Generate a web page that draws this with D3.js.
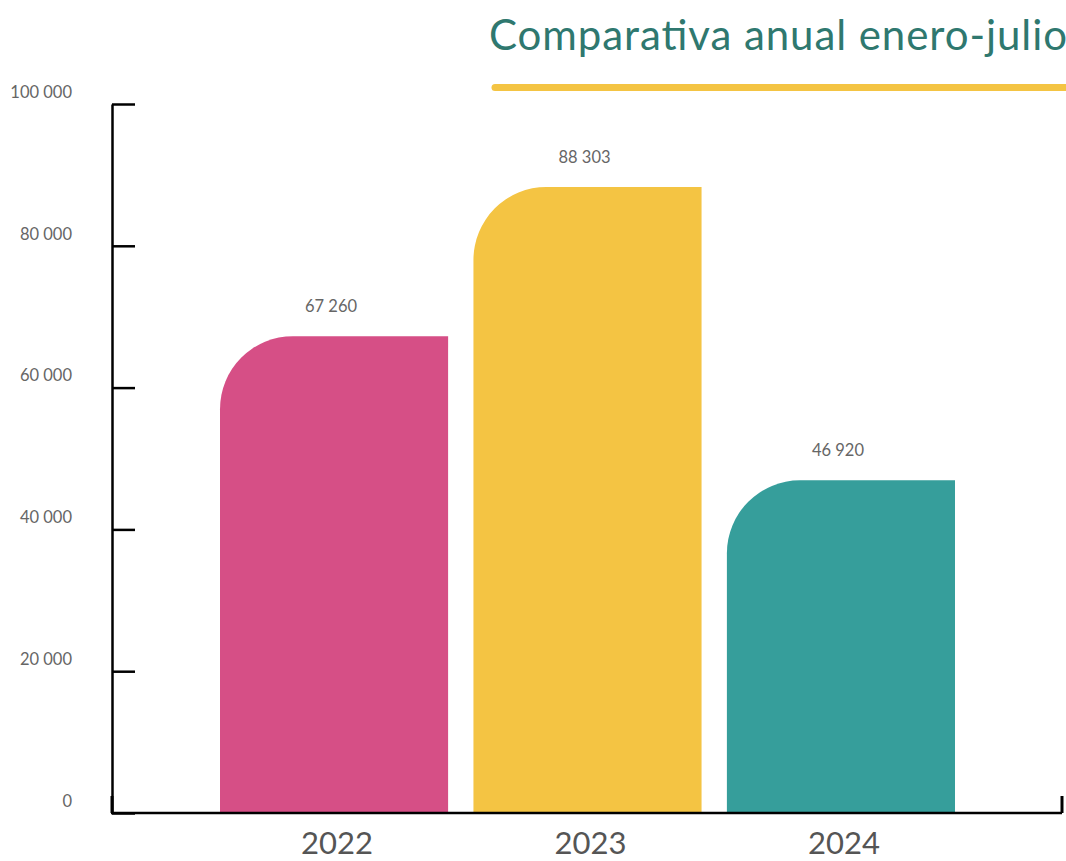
<!DOCTYPE html>
<html>
<head>
<meta charset="utf-8">
<script src="https://cdn.jsdelivr.net/npm/d3@7"></script>
<style>
  body { margin: 0; background: #fff; }
  text { font-family: Lato, "Open Sans", sans-serif; }
</style>
</head>
<body>
<div id="plot"></div>
<script>
// Data
const years = ["2022", "2023", "2024"];
const values = [67260, 88303, 46920];
const barColors = ["#d64f86", "#f4c443", "#369e9b"];
const tickValues = [0, 20000, 40000, 60000, 80000, 100000];
const tickLabels = ["0", "20 000", "40 000", "60 000", "80 000", "100 000"];
const valueLabels = ["67 260", "88 303", "46 920"];
const title = "Comparativa anual enero-julio";

const width = 1066;
const height = 861;

const svg = d3.select("#plot")
  .append("svg")
  .attr("width", width)
  .attr("height", height);

// Scales
const x = d3.scaleBand()
  .domain(years)
  .range([220, 955])
  .paddingInner(0.1)
  .paddingOuter(0);

const y = d3.scaleLinear()
  .domain([0, 100000])
  .range([813, 104]);

// Title + underline
svg.append("text")
  .attr("x", 489)
  .attr("y", 50)
  .attr("font-size", 42)
  .attr("fill", "#2f786f")
  .attr("textLength", 578)
  .attr("lengthAdjust", "spacing")
  .text(title);

svg.append("line")
  .attr("x1", 495).attr("x2", 1075)
  .attr("y1", 87.5).attr("y2", 87.5)
  .attr("stroke", "#f4c443")
  .attr("stroke-width", 7)
  .attr("stroke-linecap", "round");

// Bars with a rounded top-left corner
const radius = 73;
function barPath(d, i) {
  const x0 = x(years[i]);
  const x1 = x0 + x.bandwidth();
  const yTop = y(d);
  const yBot = y(0);
  const r = Math.min(radius, yBot - yTop);
  return `M${x0},${yBot} L${x0},${yTop + r} A${r},${r} 0 0 1 ${x0 + r},${yTop} L${x1},${yTop} L${x1},${yBot} Z`;
}

svg.append("g")
  .selectAll("path")
  .data(values)
  .enter().append("path")
  .attr("d", barPath)
  .attr("fill", (d, i) => barColors[i]);

// Value labels
svg.append("g")
  .selectAll("text")
  .data(values)
  .enter().append("text")
  .attr("x", (d, i) => x(years[i]) + x.bandwidth() / 2 - 3)
  .attr("y", d => y(d) - 24)
  .attr("text-anchor", "middle")
  .attr("font-size", 16.5)
  .attr("fill", "#666")
  .text((d, i) => valueLabels[i]);

// Y axis (ticks pointing right, labels drawn separately)
const yAxis = svg.append("g")
  .attr("transform", "translate(112,0)")
  .call(d3.axisRight(y).tickValues(tickValues).tickSize(23).tickSizeOuter(0).tickFormat(""));
yAxis.selectAll("path, line")
  .attr("stroke", "#000")
  .attr("stroke-width", 2.5);

svg.append("g")
  .selectAll("text")
  .data(tickValues)
  .enter().append("text")
  .attr("x", 72)
  .attr("y", d => y(d) - 12)
  .attr("dy", "0.35em")
  .attr("text-anchor", "end")
  .attr("font-size", 16.5)
  .attr("fill", "#666")
  .text((d, i) => tickLabels[i]);

// X axis line with end ticks
const xAxis = svg.append("g")
  .attr("transform", `translate(0,${y(0)})`);
xAxis.append("line")
  .attr("x1", 111).attr("x2", 1062)
  .attr("stroke", "#000")
  .attr("stroke-width", 2.5);
xAxis.selectAll("line.end")
  .data([112, 1062])
  .enter().append("line")
  .attr("class", "end")
  .attr("x1", d => d).attr("x2", d => d)
  .attr("y1", 0).attr("y2", -17)
  .attr("stroke", "#000")
  .attr("stroke-width", 3);

// Category labels
svg.append("g")
  .selectAll("text")
  .data(years)
  .enter().append("text")
  .attr("x", d => x(d) + x.bandwidth() / 2 + 3)
  .attr("y", 854)
  .attr("text-anchor", "middle")
  .attr("font-size", 31)
  .attr("fill", "#555")
  .text(d => d);
</script>
</body>
</html>
